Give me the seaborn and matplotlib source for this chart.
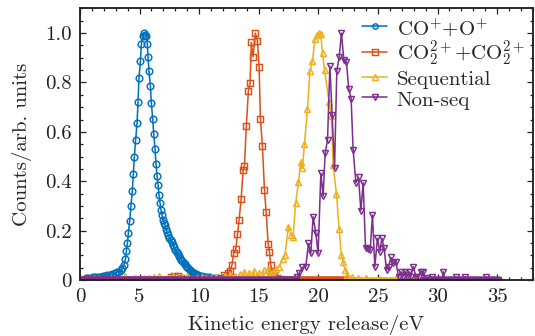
import numpy as np
import pandas as pd
import seaborn as sns
import matplotlib.pyplot as plt
from matplotlib.ticker import MultipleLocator

# CO+ + O+ channel
co_x = [0.5, 0.7, 0.9, 1.1, 1.3, 1.5, 1.7, 1.9, 2.1, 2.3, 2.5, 2.7, 2.9, 3.1,
        3.27, 3.42, 3.56, 3.69, 3.81, 3.89, 3.98, 4.06, 4.17, 4.28,
        4.39, 4.48, 4.56, 4.67, 4.79, 4.87, 4.95, 5.07, 5.15, 5.26,
        5.37, 5.46, 5.57, 5.65, 5.71, 5.79, 5.91, 5.99, 6.10, 6.19,
        6.30, 6.38, 6.47, 6.55, 6.63, 6.72, 6.80, 6.88, 6.97, 7.05,
        7.14, 7.22, 7.31, 7.40, 7.50, 7.60, 7.70, 7.80, 7.90, 8.00,
        8.10, 8.20, 8.30, 8.40, 8.50, 8.60, 8.70, 8.80, 8.90, 9.00,
        9.10, 9.20, 9.30, 9.40, 9.50, 9.60, 9.70, 9.80, 9.90, 10.0,
        10.2, 10.4, 10.6, 10.8, 11.0, 11.3, 11.6, 12.0]
co_y = [0.008, 0.009, 0.010, 0.011, 0.012, 0.013, 0.014, 0.016, 0.018, 0.020, 0.022, 0.025, 0.028, 0.031,
        0.034, 0.040, 0.047, 0.061, 0.084, 0.117, 0.148, 0.19, 0.24, 0.30,
        0.36, 0.43, 0.50, 0.567, 0.637, 0.72, 0.818, 0.887, 0.957, 0.99,
        1.0, 0.992, 0.989, 0.955, 0.902, 0.846, 0.785, 0.716, 0.653, 0.59,
        0.529, 0.47, 0.42, 0.385, 0.345, 0.31, 0.283, 0.262, 0.243, 0.232,
        0.222, 0.207, 0.195, 0.183, 0.172, 0.162, 0.152, 0.142, 0.132, 0.122,
        0.113, 0.105, 0.097, 0.089, 0.081, 0.075, 0.069, 0.063, 0.057, 0.052,
        0.047, 0.042, 0.038, 0.034, 0.030, 0.027, 0.024, 0.022, 0.020, 0.018,
        0.016, 0.014, 0.012, 0.011, 0.010, 0.009, 0.008, 0.007]
co_zero = []

# CO2(2+) + CO2(2+) channel
co2_x = [7.6, 7.9, 8.2, 8.5,
         12.06, 12.3, 12.45, 12.59, 12.76, 12.90, 13.07, 13.21, 13.35, 13.52,
         13.69, 13.80, 13.96, 14.13, 14.27, 14.38, 14.52, 14.72, 14.89, 15.03,
         15.14, 15.31, 15.48, 15.62, 15.79, 15.90, 16.01, 16.15, 16.3, 16.5,
         16.8]
co2_y = [0.012, 0.018, 0.016, 0.010,
         0.02, 0.018, 0.027, 0.038, 0.062, 0.108, 0.124, 0.185, 0.243, 0.327,
         0.444, 0.462, 0.625, 0.766, 0.796, 0.962, 0.904, 1.0, 0.968, 0.864,
         0.653, 0.541, 0.364, 0.274, 0.146, 0.112, 0.061, 0.027, 0.015, 0.008,
         0.005]
co2_zero = [(0.0, 12.0), (16.9, 22.5)]

# sequential breakup
seq_x = [3.0, 3.4, 3.8, 4.2, 4.6, 5.0, 5.4, 5.8, 6.2, 6.6,
         7.0, 7.4, 7.8, 8.2, 8.6, 9.0, 9.4, 9.8, 10.2, 10.6,
         11.0, 11.4, 11.8, 12.2, 12.6, 13.0, 13.4, 13.8, 14.2, 14.6,
         15.0, 15.4, 15.8,
         16.15, 16.48, 16.7, 17.0, 17.2, 17.49, 17.69, 17.88, 18.1, 18.33,
         18.53, 18.67, 18.83, 19.09, 19.29, 19.51, 19.71, 19.87, 20.07, 20.21,
         20.35, 20.52, 20.9, 21.1, 21.24, 21.52, 21.75, 21.92, 22.08, 22.25,
         22.44, 22.8, 23.3, 24.0, 25.2, 26.5, 28.0]
seq_y = [0.005, 0.008, 0.015, 0.006, 0.010, 0.004, 0.008, 0.010, 0.012, 0.016,
         0.006, 0.010, 0.018, 0.008, 0.012, 0.015, 0.006, 0.010, 0.014, 0.008,
         0.010, 0.012, 0.006, 0.015, 0.020, 0.018, 0.025, 0.032, 0.028, 0.035,
         0.030, 0.040, 0.045,
         0.027, 0.044, 0.054, 0.084, 0.101, 0.216, 0.182, 0.175, 0.313, 0.396,
         0.479, 0.452, 0.551, 0.691, 0.847, 0.888, 0.975, 0.992, 1.0, 0.995,
         0.918, 0.85, 0.722, 0.664, 0.466, 0.348, 0.205, 0.101, 0.074, 0.04,
         0.02, 0.012, 0.008, 0.010, 0.006, 0.008, 0.005]
seq_zero = [(0.0, 16.3), (22.5, 35.3)]

# non-sequential breakup
ns_x = [18.25, 18.39, 18.67, 18.95, 19.17, 19.37, 19.56, 19.79, 19.98, 20.21,
        20.40, 20.57, 20.77, 20.97, 21.16, 21.36, 21.55, 21.75, 21.94, 22.14,
        22.36, 22.55, 22.75, 22.92, 23.15, 23.37, 23.57, 23.76, 23.96, 24.15,
        24.35, 24.54, 24.74, 24.96, 25.16, 25.33, 25.52, 25.72, 25.90, 26.08,
        26.28, 26.50, 26.73, 26.92, 27.07, 27.29, 27.48, 27.62, 27.76, 27.96,
        28.20, 28.41, 28.60, 28.80, 29.08, 29.53, 30.48, 31.55, 32.33, 34.06]
ns_y = [0.013, 0.027, 0.051, 0.054, 0.148, 0.108, 0.256, 0.189, 0.108, 0.432,
        0.340, 0.513, 0.567, 0.866, 0.668, 0.452, 0.847, 0.904, 1.0, 0.890,
        0.883, 0.772, 0.735, 0.526, 0.394, 0.416, 0.281, 0.394, 0.128, 0.124,
        0.121, 0.263, 0.054, 0.169, 0.115, 0.169, 0.128, 0.040, 0.054, 0.092,
        0.067, 0.074, 0.013, 0.034, 0.013, 0.034, 0.013, 0.034, 0.013, 0.054,
        0.013, 0.013, 0.034, 0.034, 0.007, 0.013, 0.034, 0.013, 0.013, 0.013]
ns_zero = [(0.0, 18.2), (28.9, 35.1)]

labels = [r'CO$^{+}$+O$^{+}$', r'CO$_2^{2+}$+CO$_2^{2+}$', 'Sequential', 'Non-seq']
colors = ['#0072BD', '#D95319', '#EDB120', '#7E2F8E']
markers = ['o', 's', '^', 'v']
xticks = [0, 5, 10, 15, 20, 25, 30, 35]
yticks = [0, 0.2, 0.4, 0.6, 0.8, 1.0]
ytick_labels = ['0', '0.2', '0.4', '0.6', '0.8', '1.0']


def with_zero_bins(xs, ys, spans, step=0.1):
    # empty bins (zero counts) in the given ranges, skipping bins already listed
    xs = list(xs)
    ys = list(ys)
    listed = np.array(xs)
    for start, stop in spans:
        for g in np.arange(start, stop + step / 2, step):
            if len(listed) == 0 or np.min(np.abs(listed - g)) > 0.06:
                xs.append(round(g, 2))
                ys.append(0.0)
    df = pd.DataFrame({'E': xs, 'counts': ys})
    return df.sort_values('E')


sns.set_theme(style='ticks')
plt.rcParams['font.family'] = 'serif'
plt.rcParams['font.serif'] = ['cmr10']
plt.rcParams['mathtext.fontset'] = 'cm'
plt.rcParams['axes.formatter.use_mathtext'] = True
plt.rcParams['font.size'] = 10

fig, ax = plt.subplots(figsize=(535 / 150, 336 / 150), dpi=150)
fig.subplots_adjust(left=0.1495, right=0.996, bottom=0.1667, top=0.975)

data = [(co_x, co_y, co_zero), (co2_x, co2_y, co2_zero),
        (seq_x, seq_y, seq_zero), (ns_x, ns_y, ns_zero)]
for (xs, ys, spans), label, color, marker in zip(data, labels, colors, markers):
    df = with_zero_bins(xs, ys, spans)
    sns.lineplot(data=df, x='E', y='counts', ax=ax, color=color, label=label,
                 marker=marker, markersize=3.2, markerfacecolor='none',
                 markeredgecolor=color, markeredgewidth=0.7, linewidth=0.75,
                 estimator=None, sort=True)

ax.set_xlim(0, 38)
ax.set_ylim(0, 1.1)
ax.set_xticks(xticks)
ax.set_xticklabels([str(t) for t in xticks])
ax.set_yticks(yticks)
ax.set_yticklabels(ytick_labels)
ax.xaxis.set_minor_locator(MultipleLocator(1))
ax.yaxis.set_minor_locator(MultipleLocator(0.05))
ax.tick_params(which='both', direction='in', top=True, right=True, labelsize=10,
               colors='#222222', width=0.6)
ax.tick_params(which='major', length=3.0, pad=4)
ax.tick_params(which='minor', length=1.6)
for sp in ax.spines.values():
    sp.set_linewidth(0.9)
    sp.set_color('#222222')

ax.set_xlabel('Kinetic energy release/eV', fontsize=10, labelpad=4)
ax.set_ylabel('Counts/arb. units', fontsize=10, labelpad=6)

ax.legend(loc='upper right', bbox_to_anchor=(1.0, 1.0), frameon=False, fontsize=10,
          handlelength=1.2, handletextpad=0.45, labelspacing=0.0, handleheight=1.02,
          borderaxespad=0.2, borderpad=0.2, markerscale=0.8)

fig.savefig('out.png', dpi=150)
